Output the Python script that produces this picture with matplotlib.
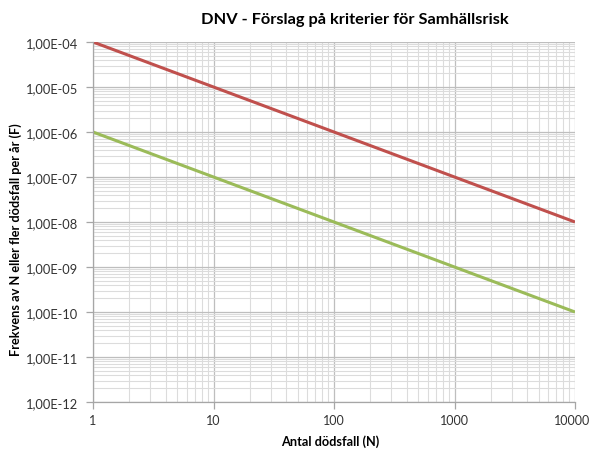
import matplotlib.pyplot as plt
import matplotlib.ticker as mticker
import matplotlib.transforms as mtransforms
import numpy as np

plt.rcParams['font.family'] = ['Lato', 'DejaVu Sans']

n = [1, 10, 100, 1000, 10000]
upper = [1e-4, 1e-5, 1e-6, 1e-7, 1e-8]
lower = [1e-6, 1e-7, 1e-8, 1e-9, 1e-10]

W, H = 590, 456
fig = plt.figure(figsize=(W / 100, H / 100), dpi=100)
ax = fig.add_axes([93 / W, 1 - 403 / H, (575 - 93) / W, (403 - 43) / H])

ax.plot(n, upper, color='#C0504D', lw=2.2, solid_capstyle='butt')
ax.plot(n, lower, color='#9BBB59', lw=2.2, solid_capstyle='butt')

ax.set_xscale('log')
ax.set_yscale('log')
ax.set_xlim(1, 10000)
ax.set_ylim(1e-12, 1e-4)

ax.yaxis.set_major_locator(mticker.LogLocator(base=10, numticks=20))
ax.yaxis.set_minor_locator(mticker.LogLocator(base=10, subs=np.arange(2, 10), numticks=20))
ax.xaxis.set_major_locator(mticker.LogLocator(base=10, numticks=20))
ax.xaxis.set_minor_locator(mticker.LogLocator(base=10, subs=np.arange(2, 10), numticks=20))

def yfmt(v, pos):
    e = int(round(np.log10(v)))
    return '1,00E-%02d' % -e if e < 0 else '1,00E+%02d' % e

ax.yaxis.set_major_formatter(mticker.FuncFormatter(yfmt))
ax.xaxis.set_major_formatter(mticker.FuncFormatter(lambda v, p: '%d' % round(v)))
ax.yaxis.set_minor_formatter(mticker.NullFormatter())
ax.xaxis.set_minor_formatter(mticker.NullFormatter())

ax.grid(which='major', color='#BEBEBE', lw=0.9)
ax.grid(which='minor', color='#DCDCDC', lw=0.8)
ax.set_axisbelow(True)

for s in ['top', 'right']:
    ax.spines[s].set_visible(False)
for s in ['left', 'bottom']:
    ax.spines[s].set_color('#A6A6A6')
    ax.spines[s].set_linewidth(0.9)

ax.tick_params(which='major', length=5, width=0.9, color='#A6A6A6',
               labelcolor='#333333', direction='out')
ax.tick_params(which='minor', length=0)
ax.tick_params(axis='x', pad=4, labelsize=9)
ax.tick_params(axis='y', pad=6, labelsize=9.3)

# nudge the last x label so it stays inside the figure
fig.canvas.draw()
last = [t for t in ax.get_xticklabels() if t.get_text() == '10000']
for t in last:
    t.set_transform(t.get_transform() + mtransforms.ScaledTranslation(-3 / 100, 0, fig.dpi_scale_trans))

fig.text(355 / W, 1 - 20 / H, 'DNV - Förslag på kriterier för Samhällsrisk', ha='center',
         va='center', fontsize=11.8, fontweight='bold')
fig.text(330 / W, 1 - 442 / H, 'Antal dödsfall (N)', ha='center', va='center',
         fontsize=9.2, fontweight='bold')
fig.text(16 / W, 1 - 240 / H, 'Frekvens av N eller fler dödsfall per år (F)', ha='center',
         va='center', rotation=90, fontsize=9.2, fontweight='bold')

fig.savefig('out.png', dpi=100)
